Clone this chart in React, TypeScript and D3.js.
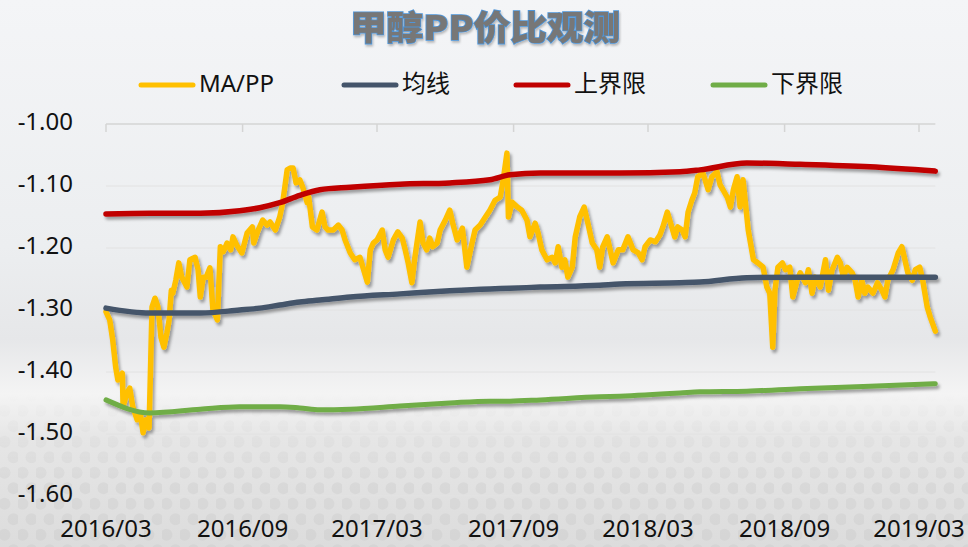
import * as d3 from 'd3';

// MA/PP price ratio
const maDates = [
  '2016-03-01', '2016-03-06', '2016-03-10', '2016-03-14', '2016-03-17', '2016-03-23', '2016-03-24', '2016-03-29',
  '2016-04-02', '2016-04-06', '2016-04-12', '2016-04-16', '2016-04-20', '2016-04-24', '2016-04-28', '2016-05-02',
  '2016-05-06', '2016-05-10', '2016-05-14', '2016-05-18', '2016-05-22', '2016-05-25', '2016-05-28', '2016-05-30',
  '2016-06-03', '2016-06-07', '2016-06-11', '2016-06-15', '2016-06-18', '2016-06-22', '2016-06-29', '2016-07-03',
  '2016-07-06', '2016-07-10', '2016-07-14', '2016-07-19', '2016-07-23', '2016-07-29', '2016-08-02', '2016-08-06',
  '2016-08-11', '2016-08-16', '2016-08-19', '2016-08-24', '2016-08-31', '2016-09-07', '2016-09-14', '2016-09-16',
  '2016-09-22', '2016-09-28', '2016-10-04', '2016-10-08', '2016-10-15', '2016-10-21', '2016-10-25', '2016-10-31',
  '2016-11-04', '2016-11-08', '2016-11-12', '2016-11-17', '2016-11-21', '2016-11-27', '2016-11-29', '2016-12-04',
  '2016-12-10', '2016-12-17', '2016-12-21', '2016-12-25', '2017-01-01', '2017-01-08', '2017-01-13', '2017-01-17',
  '2017-01-24', '2017-01-30', '2017-02-06', '2017-02-10', '2017-02-16', '2017-02-20', '2017-02-24', '2017-03-01',
  '2017-03-08', '2017-03-12', '2017-03-16', '2017-03-23', '2017-03-29', '2017-04-04', '2017-04-08', '2017-04-12',
  '2017-04-17', '2017-04-21', '2017-04-28', '2017-05-02', '2017-05-07', '2017-05-11', '2017-05-15', '2017-05-21',
  '2017-05-25', '2017-06-01', '2017-06-07', '2017-06-11', '2017-06-17', '2017-06-24', '2017-06-30', '2017-07-07',
  '2017-07-11', '2017-07-18', '2017-07-25', '2017-07-31', '2017-08-07', '2017-08-14', '2017-08-18', '2017-08-23',
  '2017-08-25', '2017-08-30', '2017-09-06', '2017-09-12', '2017-09-19', '2017-09-23', '2017-09-30', '2017-10-04',
  '2017-10-09', '2017-10-16', '2017-10-23', '2017-10-27', '2017-10-31', '2017-11-05', '2017-11-09', '2017-11-13',
  '2017-11-19', '2017-11-23', '2017-11-29', '2017-12-05', '2017-12-10', '2017-12-16', '2017-12-22', '2017-12-26',
  '2017-12-30', '2018-01-05', '2018-01-09', '2018-01-13', '2018-01-20', '2018-01-26', '2018-02-02', '2018-02-09',
  '2018-02-16', '2018-02-21', '2018-02-25', '2018-03-04', '2018-03-11', '2018-03-17', '2018-03-21', '2018-03-27',
  '2018-04-02', '2018-04-06', '2018-04-10', '2018-04-16', '2018-04-20', '2018-04-24', '2018-04-29', '2018-05-03',
  '2018-05-07', '2018-05-14', '2018-05-21', '2018-05-26', '2018-06-02', '2018-06-06', '2018-06-10', '2018-06-16',
  '2018-06-20', '2018-06-24', '2018-06-29', '2018-07-03', '2018-07-07', '2018-07-14', '2018-07-21', '2018-07-27',
  '2018-08-03', '2018-08-08', '2018-08-12', '2018-08-16', '2018-08-19', '2018-08-23', '2018-08-29', '2018-09-02',
  '2018-09-08', '2018-09-12', '2018-09-18', '2018-09-22', '2018-09-29', '2018-10-03', '2018-10-08', '2018-10-12',
  '2018-10-19', '2018-10-26', '2018-10-30', '2018-11-04', '2018-11-11', '2018-11-15', '2018-11-19', '2018-11-24',
  '2018-12-01', '2018-12-05', '2018-12-09', '2018-12-14', '2018-12-18', '2018-12-22', '2018-12-29', '2019-01-04',
  '2019-01-10', '2019-01-14', '2019-01-18', '2019-01-25', '2019-02-01', '2019-02-06', '2019-02-10', '2019-02-14',
  '2019-02-20', '2019-02-24', '2019-03-02', '2019-03-06', '2019-03-12', '2019-03-16', '2019-03-23',
];
const maValues = [
  -1.303, -1.316, -1.348, -1.392, -1.413, -1.402, -1.456, -1.434,
  -1.426, -1.456, -1.477, -1.466, -1.498, -1.477, -1.49, -1.295,
  -1.281, -1.295, -1.344, -1.36, -1.337, -1.316, -1.268, -1.273,
  -1.252, -1.224, -1.247, -1.256, -1.263, -1.219, -1.215, -1.235,
  -1.279, -1.247, -1.247, -1.232, -1.3, -1.316, -1.198, -1.206,
  -1.192, -1.203, -1.182, -1.195, -1.208, -1.176, -1.166, -1.192,
  -1.171, -1.155, -1.163, -1.158, -1.171, -1.15, -1.127, -1.074,
  -1.071, -1.071, -1.095, -1.09, -1.102, -1.127, -1.118, -1.166,
  -1.171, -1.142, -1.166, -1.171, -1.171, -1.163, -1.171, -1.187,
  -1.208, -1.219, -1.215, -1.231, -1.255, -1.203, -1.192, -1.187,
  -1.171, -1.203, -1.215, -1.187, -1.174, -1.184, -1.203, -1.224,
  -1.256, -1.215, -1.158, -1.192, -1.203, -1.184, -1.198, -1.192,
  -1.171, -1.155, -1.139, -1.16, -1.187, -1.168, -1.231, -1.192,
  -1.171, -1.163, -1.15, -1.139, -1.123, -1.118, -1.09, -1.047,
  -1.15, -1.126, -1.134, -1.139, -1.155, -1.182, -1.16, -1.176,
  -1.203, -1.219, -1.215, -1.224, -1.198, -1.231, -1.219, -1.247,
  -1.231, -1.182, -1.15, -1.134, -1.16, -1.192, -1.203, -1.231,
  -1.198, -1.182, -1.203, -1.224, -1.203, -1.203, -1.182, -1.203,
  -1.208, -1.219, -1.198, -1.187, -1.19, -1.179, -1.166, -1.142,
  -1.166, -1.182, -1.166, -1.171, -1.182, -1.142, -1.123, -1.111,
  -1.085, -1.079, -1.106, -1.085, -1.077, -1.098, -1.106, -1.119,
  -1.134, -1.106, -1.085, -1.134, -1.09, -1.171, -1.219, -1.224,
  -1.231, -1.263, -1.273, -1.36, -1.268, -1.231, -1.224, -1.235,
  -1.231, -1.279, -1.252, -1.24, -1.256, -1.235, -1.273, -1.247,
  -1.263, -1.219, -1.268, -1.235, -1.215, -1.224, -1.247, -1.231,
  -1.24, -1.252, -1.279, -1.252, -1.273, -1.263, -1.273, -1.256,
  -1.268, -1.279, -1.252, -1.235, -1.208, -1.198, -1.219, -1.24,
  -1.252, -1.235, -1.231, -1.252, -1.295, -1.311, -1.334,
];

// the three band lines share these dates
const bandDates = [
  '2016-03-01', '2016-04-29', '2016-07-06', '2016-08-28', '2016-09-24', '2016-10-21', '2016-11-17', '2016-12-14',
  '2017-01-24', '2017-04-01', '2017-06-07', '2017-07-31', '2017-08-27', '2017-10-07', '2017-12-26', '2018-01-22',
  '2018-04-13', '2018-05-10', '2018-07-12', '2018-09-22', '2018-12-25', '2019-03-23',
];
const meanValues = [
  -1.297, -1.305, -1.305, -1.3, -1.297, -1.292, -1.287, -1.284, -1.279, -1.274, -1.269,
  -1.266, -1.265, -1.263, -1.26, -1.258, -1.256, -1.255, -1.248, -1.247, -1.247, -1.247,
];
const upperValues = [
  -1.145, -1.144, -1.144, -1.14, -1.135, -1.127, -1.115, -1.106, -1.102, -1.097, -1.095,
  -1.09, -1.082, -1.079, -1.079, -1.079, -1.077, -1.074, -1.063, -1.065, -1.069, -1.076,
];
const lowerValues = [
  -1.445, -1.466, -1.46, -1.456, -1.456, -1.456, -1.458, -1.461, -1.46, -1.455, -1.45,
  -1.447, -1.447, -1.445, -1.44, -1.439, -1.434, -1.432, -1.431, -1.427, -1.423, -1.419,
];

const yTickValues = [-1.0, -1.1, -1.2, -1.3, -1.4, -1.5, -1.6];
const xTickLabels = ['2016/03', '2016/09', '2017/03', '2017/09', '2018/03', '2018/09', '2019/03'];
const seriesNames = ['MA/PP', '均线', '上界限', '下界限'];
const seriesColors = ['#FFC000', '#44546A', '#C00000', '#70AD47'];

const parseDay = d3.timeParse('%Y-%m-%d');
const parseMonth = d3.timeParse('%Y/%m');

export default function App() {
  const width = 968;
  const height = 547;
  const left = 106;
  const top = 124;
  const bottom = 496;

  const x = d3
    .scaleTime()
    .domain([parseMonth(xTickLabels[0]) as Date, parseMonth(xTickLabels[xTickLabels.length - 1]) as Date])
    .range([left, 919]);
  const y = d3.scaleLinear().domain([-1.6, -1.0]).range([bottom, top]);
  const plotRight = x(parseDay(maDates[maDates.length - 1]) as Date);

  const maPts = maDates.map((d, i) => [parseDay(d) as Date, maValues[i]] as [Date, number]);
  const band = (vals: number[]) => bandDates.map((d, i) => [parseDay(d) as Date, vals[i]] as [Date, number]);

  const rough = d3.line<[Date, number]>().x((p) => x(p[0])).y((p) => y(p[1]));
  const smooth = d3
    .line<[Date, number]>()
    .x((p) => x(p[0]))
    .y((p) => y(p[1]))
    .curve(d3.curveMonotoneX);

  const series = [
    { d: rough(maPts), color: seriesColors[0], w: 5.5 },
    { d: smooth(band(meanValues)), color: seriesColors[1], w: 5.5 },
    { d: smooth(band(upperValues)), color: seriesColors[2], w: 5.5 },
    { d: smooth(band(lowerValues)), color: seriesColors[3], w: 5 },
  ];

  const legendX = [139, 342, 514, 711];
  const font = "'Noto Sans', 'Noto Sans CJK SC', sans-serif";

  return (
    <svg
      width={width}
      height={height}
      viewBox={`0 0 ${width} ${height}`}
      style={{ position: 'absolute', left: 0, top: 0, display: 'block' }}
    >
      <defs>
        <linearGradient id="bg" x1="0" y1="0" x2="0" y2="1">
          <stop offset="0" stopColor="#f4f5f7" />
          <stop offset="0.45" stopColor="#eceef0" />
          <stop offset="0.62" stopColor="#e6e7e9" />
          <stop offset="0.72" stopColor="#f4f4f4" />
          <stop offset="0.8" stopColor="#e6e6e6" />
          <stop offset="1" stopColor="#dcdcdc" />
        </linearGradient>
        <linearGradient id="fadeIn" x1="0" y1="0" x2="0" y2="1">
          <stop offset="0" stopColor="#000" />
          <stop offset="0.72" stopColor="#000" />
          <stop offset="0.88" stopColor="#fff" />
          <stop offset="1" stopColor="#fff" />
        </linearGradient>
        <mask id="hexMask">
          <rect width={width} height={height} fill="url(#fadeIn)" />
        </mask>
        <pattern id="hex" width="18" height="31" patternUnits="userSpaceOnUse">
          <circle cx="4.5" cy="7.75" r="6" fill="#c4c4c4" />
          <circle cx="13.5" cy="23.25" r="6" fill="#c4c4c4" />
        </pattern>
        <filter id="shadow" x="-5%" y="-20%" width="110%" height="140%">
          <feDropShadow dx="2" dy="3" stdDeviation="1.6" floodColor="#000" floodOpacity="0.35" />
        </filter>
        <filter id="titleShadow" x="-10%" y="-30%" width="120%" height="160%">
          <feDropShadow dx="1" dy="2" stdDeviation="1" floodColor="#000" floodOpacity="0.25" />
        </filter>
      </defs>

      <rect width={width} height={height} fill="url(#bg)" />
      <rect width={width} height={height} fill="url(#hex)" opacity={0.28} mask="url(#hexMask)" />

      <text
        x={485}
        y={40}
        textAnchor="middle"
        fontFamily="'Noto Sans CJK SC', sans-serif"
        fontWeight={900}
        fontSize={34}
        textLength={270}
        lengthAdjust="spacingAndGlyphs"
        fill="#777"
        stroke="#4f95d8"
        strokeWidth={1.6}
        paintOrder="stroke"
        filter="url(#titleShadow)"
      >
        甲醇PP价比观测
      </text>

      {seriesNames.map((name, i) => (
        <g key={name} transform={`translate(${legendX[i]},85)`}>
          <line x1={2} x2={54} y1={0} y2={0} stroke={seriesColors[i]} strokeWidth={5} strokeLinecap="round" />
          <text x={60} y={1} dominantBaseline="middle" fontFamily={font} fontSize={24} fill="#111">
            {name}
          </text>
        </g>
      ))}

      {yTickValues.map((t) => (
        <g key={t}>
          <line
            x1={left}
            x2={plotRight}
            y1={y(t)}
            y2={y(t)}
            stroke={t === -1.0 ? '#d4d4d4' : '#e2e2e2'}
            strokeWidth={t === -1.0 ? 1.5 : 1}
          />
          <text x={73} y={y(t)} textAnchor="end" dominantBaseline="middle" fontFamily={font} fontSize={24} fill="#111">
            {t.toFixed(2)}
          </text>
        </g>
      ))}

      {xTickLabels.map((label) => {
        const px = x(parseMonth(label) as Date);
        return (
          <g key={label}>
            <line x1={px} x2={px} y1={top} y2={top + 8} stroke="#d4d4d4" strokeWidth={1.5} />
            <text x={px} y={531} textAnchor="middle" dominantBaseline="middle" fontFamily={font} fontSize={24} fill="#111">
              {label}
            </text>
          </g>
        );
      })}

      <g filter="url(#shadow)">
        {series.map((s, i) => (
          <path
            key={seriesNames[i]}
            d={s.d ?? ''}
            fill="none"
            stroke={s.color}
            strokeWidth={s.w}
            strokeLinejoin="round"
            strokeLinecap="round"
          />
        ))}
      </g>
    </svg>
  );
}
